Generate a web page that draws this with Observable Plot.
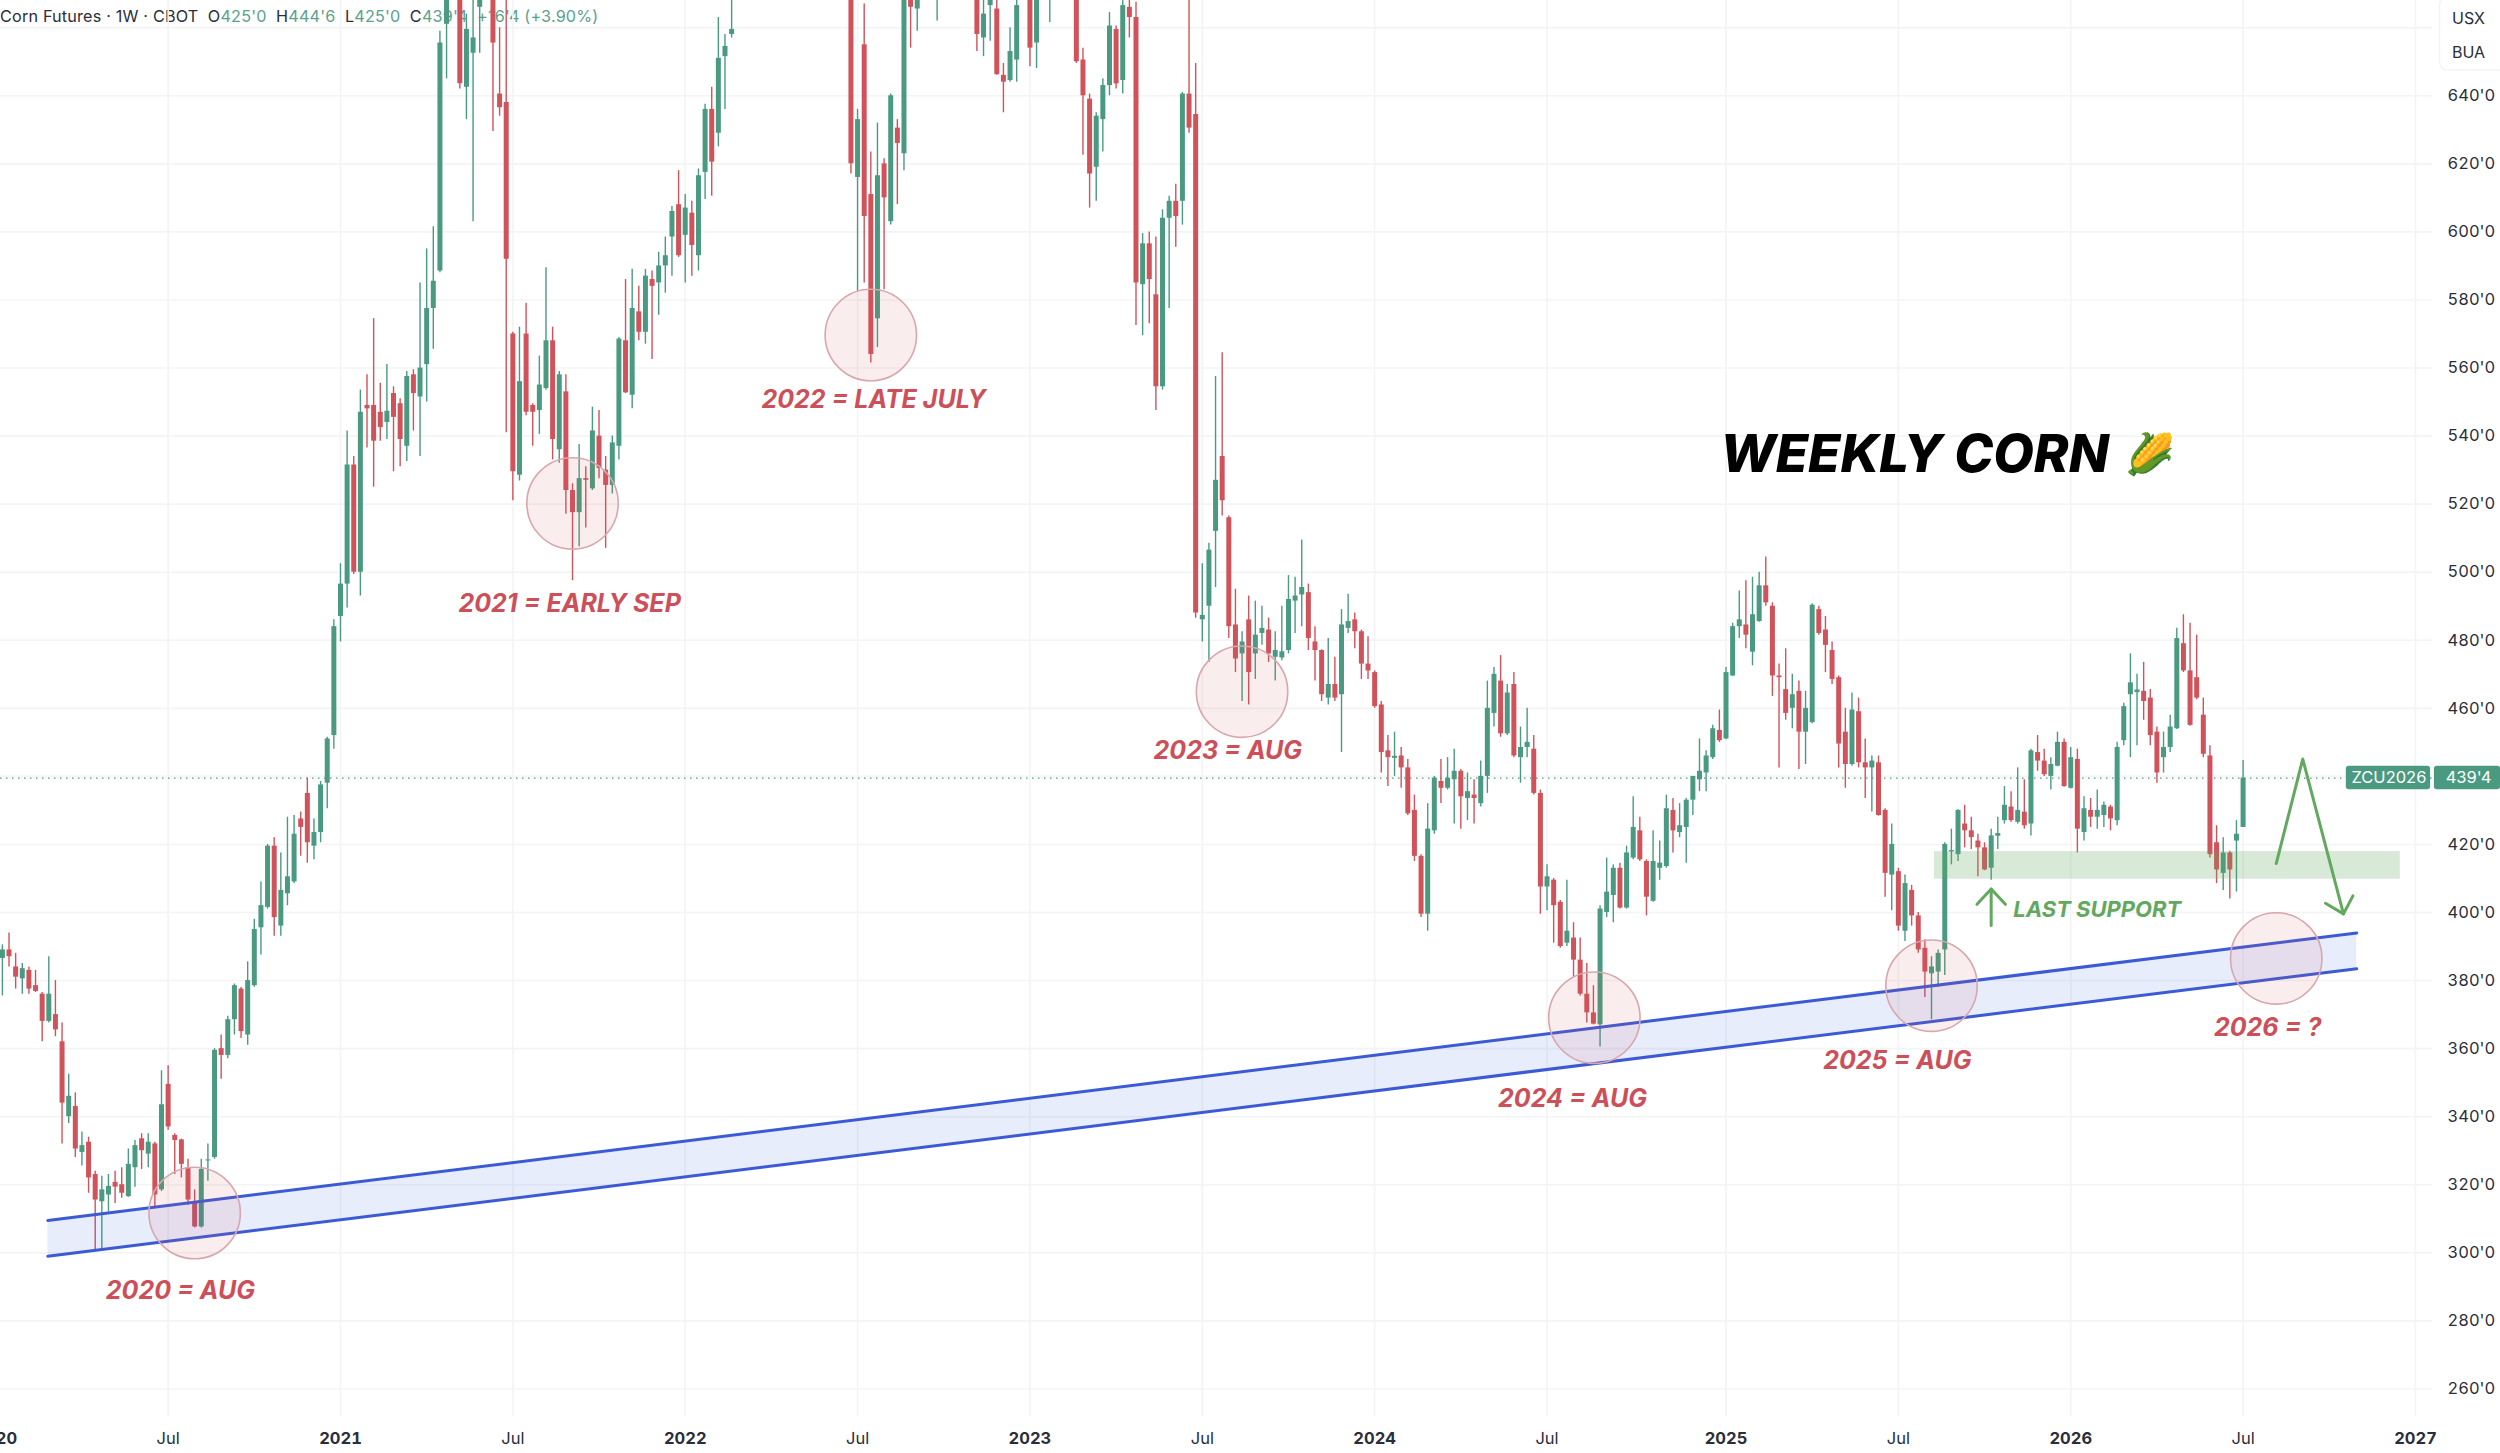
<!DOCTYPE html>
<html><head><meta charset="utf-8">
<script src="https://cdn.jsdelivr.net/npm/d3@7"></script>
<script src="https://cdn.jsdelivr.net/npm/@observablehq/plot@0.6"></script>
<style>
html,body{margin:0;padding:0;background:#fff;overflow:hidden}
#wrap{position:relative;width:2500px;height:1453px}
#head{position:absolute;left:0;top:6px;font:16.2px Inter,sans-serif;color:#2a2e39;white-space:pre;letter-spacing:.18px}
#head span{color:#5aa28e}
#chart{position:absolute;left:0;top:0}
</style></head>
<body><div id="wrap">
<div id="head">Corn Futures · 1W · CBOT  O<span>425'0</span>  H<span>444'6</span>  L<span>425'0</span>  C<span>439'4</span>  <span>+16'4 (+3.90%)</span></div>
<div id="chart"></div></div>
<script>
// Weekly bars as [open, high, low, close], first bar of each year listed in order
const firstBar = "2020-01-13";
const weeks2020 = [[386.5,390.5,375.5,389],[389,394,384,387],[384,388,377.5,381],[380.5,385,376,383.5],[383,384,376,377.5],[378.5,383,376.5,376.8],[376,376.5,362,368],[368,387,367.5,376],[370,380,363.5,365.5],[362,367.5,332,344],[340,352.5,338,346],[343,347,328,330.5],[329.5,335.5,325.5,331.5],[332.5,334,317.5,322],[323,324,301,315.5],[315,322.5,300.5,318.5],[317,323,312,319.5],[320.7,324,314.5,319.3],[320,325,316,317.5],[316.5,330.5,316.3,326],[325,333,319.3,331.5],[333.5,335,324.5,330],[329,335,325,332.5],[332,332.5,313.5,317],[318.5,353.5,318,343.5],[349.5,355,336,337],[334.5,335,323,333],[333.2,333.4,322,326],[325,327.5,314,315.5],[314.5,318.5,307.3,307.6],[307.6,327.5,307.3,324.5],[327,332,321,327.3],[328,360,327.5,359.5],[360,364,351,358],[358,369.5,357,368.5],[368.5,379,364,378.5],[377.5,378,363,365],[364,385.5,361,380],[378.5,398,378,395],[395.5,409,387.5,402],[401.5,420,401,419.5],[419.5,422,393,398.5],[396,417.5,393,406.5],[405.5,428,402,410.5],[409,428.5,408.5,423],[427.5,429.5,416.5,425],[435,439.5,414.5,420.5],[419.5,427.5,415.5,423.5],[423.5,438.5,420.5,437.5],[438,451.5,430.5,451],[452,486,448,484]];
const weeks2021 = [[487,502.5,479.5,496.5],[496.5,541.5,489.5,531.5],[531.5,534,499.3,500],[500,553.5,493,547],[549,558,536.5,548],[549,574.5,525,538.5],[547,555.5,538.5,542.5],[544,561,539,547.3],[552.5,554.5,529.5,545.5],[549.5,551,531,539],[537,559,532.5,557.5],[558,559.5,541.5,552.5],[551.5,585,534,560],[561,595,550,577.5],[577.5,601.5,565.5,585.5],[588.5,659,588,655.5],[661,690,645,680],[680,700,672,695],[690,700,642,643.5],[642.5,664,633,659.5],[652.5,670,603,657],[666,680,652.5,675],[685,705,672,700],[680,690,629.5,655.5],[640.5,660,634,636.5],[638,672,541,592],[570,570.5,521,529.5],[528.5,572,526.8,556],[570,579,546,547],[549,549.5,537,547],[547.5,563.5,540.5,555],[554,589.5,553.5,568],[568,572,533,539],[536,559,532,558],[553,558,517,524],[524,526,497.5,517.5],[517.5,537.5,507.5,527.5],[527.5,531,513,527],[524.5,548.5,524,541.5],[540,547.5,527.5,530.5],[530,534,507,525.5],[525.5,540,523,538],[537,569,533,568.5],[568,586,552.5,552.7],[552,589,548,577.5],[576.5,584,568,570.5],[570.5,589,567,587],[586,588.5,562.5,584],[585,594,575.5,590],[590,598.5,582,593],[598.5,607.5,587,606],[608,618,592.5,593]];
const weeks2022 = [[599,611,585,607],[605.5,609,587,596],[593,618.5,588.5,616.5],[617.5,637.5,609.5,636],[636,642.5,610.5,620.5],[629,663,625,651],[651.5,658,636,654.5],[658,670,657,659.5],[672,690,670,688],[688,705,682,700],[700,712,692,695],[695,722,690,718],[718,740,712,735],[735,748,720,728],[728,755,725,750],[750,772,742,765],[765,778,735,745],[745,760,725,755],[755,785,750,780],[780,795,755,762],[762,785,758,775],[775,790,745,750],[750,770,712,722],[722,740,690,698],[698,712,672,680],[680,690,617,620],[616,636,582.5,633],[655,667,585,604.5],[611,623.5,561.5,564],[574.5,632,566,616.5],[620,621.5,583,610],[603,640.5,602,640],[630.5,633,608,626],[623,690,618,680],[672,680,654,666],[665.5,680,659,672],[680,690,672,685],[685,700,678,695],[680,695,662,690],[690,708,680,700],[700,712,688,695],[695,705,680,686],[686,698,675,680],[680,690,672,675],[672,685,653,658],[657,668,651.5,664],[666.5,672,656,668],[665.5,672,646,646.2],[646,649.5,635,644],[644.5,660,644,653],[650.5,668,644,666.5],[672,685,670,680]];
const weeks2023 = [[672,680,648.5,654],[655.5,680,648,672],[672,690,670,685],[668,680,661.5,675],[675,690,670,685],[685,695,672,680],[680,690,672,675],[672,680,649.5,650],[650.5,654,622.5,640],[639,640.5,607,617],[619,635,609,634],[633,645,623.5,643],[643,664.5,640,660.5],[659.5,660.5,642,643.5],[644.5,670,640.5,666.5],[666,670,657,663],[663,667.5,572.5,585],[584.5,599.5,569.5,596.5],[596.5,600,573,586],[581.5,598.5,547.5,554.5],[554.5,606.5,553.5,604],[604,610.5,577.5,609],[609,614,595.5,604.5],[609,641,602,640.5],[640.5,672,629,630.5],[634.5,649.5,486.5,488],[486,502.5,479.5,487.3],[490,508.5,473.5,506.5],[512,557.5,495.5,527],[534,564.5,516.5,521],[516,516.5,480.5,484],[484.5,495,470.5,474.5],[476,482.5,462,479.5],[486,493,461,470.5],[476,491.5,468.5,481.5],[482,490,478.5,483.5],[483,486.5,473.5,476],[475,482.5,468,477],[474.8,490,474,476.6],[477,499,476,492],[491.5,498.5,482,493],[493.3,509.5,484,495.5],[494,496.5,477,480.5],[479.5,484,468,477],[477,477.2,462,464],[463,480.5,461,467],[467,475,462,463],[464,489,447,484.5],[483.5,493.5,482,485.5],[486,488,477.5,482.5],[482.5,483,468.5,473],[473,481,468.5,471]];
const weeks2024 = [[470.5,471,460,460.5],[461,462,441,447],[447.5,452,437,445.5],[445.3,453,440,445.9],[446,448.5,436.5,442.5],[442.5,445,428.5,429],[430,434.5,415,416.5],[416.5,417,398.5,399.5],[399.5,432,394.5,424.5],[424,440,423,439.5],[438.5,445,432,436.5],[436.5,445.5,436,439.5],[439,448,426,441.5],[441.5,442,424.5,434],[433.5,441,427,435.5],[434.5,439,426,433.5],[432,444.5,431,440],[440,468,435,460],[458.5,472,454.5,470],[468,475.5,451.5,452.5],[452.5,467,452,464.5],[467,470.5,445.5,446],[445.5,454.5,438,448.5],[448.5,460,445.5,450],[448,452,434.5,435],[435,436,399.5,407.5],[407.5,414,400.5,410.5],[409.5,410,391,402],[403,403.5,389.5,390],[391,409.5,390,394.5],[392.5,397,381,386],[386,392.5,375.5,376],[376,385,367.5,370.5],[370.5,378.5,367,367.2],[367,402,360.5,401],[400,416,398.5,406],[405,414,397,413],[413,414.5,401,401.3],[401.3,419.5,401,417.5],[416,434,415.5,425],[424,428,415,415.5],[415,415.5,399,404.5],[403.3,424,403,415],[413,421,409.5,414.5],[413.5,434.5,413,430.5],[430,433.5,417.5,424],[423.5,432,422,425.5],[425,433.5,414.5,433],[433,440,428.5,440],[439,451,435.5,441.5],[441,447.5,435.5,446],[445.5,455,445,454],[453.5,459.5,450,450.5]];
const weeks2025 = [[451,472,450.8,470.5],[469.5,485,469.3,484],[484,494.5,480.5,486],[484.5,497.5,477.5,481.5],[476.5,498.5,472.5,487.5],[485.5,500,485.3,496],[496,504.5,490,491],[490,491,463.5,469.5],[469.5,473,442.5,469],[465.5,477.5,456.5,458.5],[460,470,454,464],[465,468,442,453],[453,465,443.5,460],[455.8,490.7,455.5,490.3],[489,490,481.5,482],[483,487,470.5,478.5],[477,479.5,467,468.5],[469,469.5,442.5,449.5],[453,460,436.5,443.5],[443.5,464.5,443,459.5],[459,463,442.5,444],[444,451,433.5,442.5],[442.5,446,429.5,444.5],[444,446,428.3,428.5],[430,430.5,404.5,411.5],[411,426,400.5,420],[412,413,394.5,396],[394.5,411,391.5,408.5],[406.5,408,396,399],[399,400,388,389],[389.5,392,375,382.5],[382,387,368.5,384],[382.5,389,378,388],[389,420.5,381.5,420],[417.8,424.5,414,418.2],[417,430.2,415,430],[426,431.5,419,424],[424,428,418.5,422],[421,423,410.5,419],[419,420.5,412.3,412.5],[413,424.5,409.5,422.5],[422.4,428,418.5,423.2],[427,437,426,431.5],[431,435.5,426.5,427],[426.5,442.5,426,430],[429.5,439,424.5,425.5],[426,448,422.5,447.5],[447,452,441.5,444.5],[444.5,448,440,440.5],[440,445.5,436,443.5],[443,453,442.8,450],[450,451,436.8,437]];
const weeks2026 = [[436.5,448.5,436.3,445.5],[445,448,417.5,424.5],[423.5,434,421,430.5],[430,433.5,425,428],[428,436,424.5,430],[428.5,432.5,425,431.5],[431,431.5,424,427.5],[427,450,425.5,448.5],[450.5,461.5,449,460.5],[464,476,445.5,467.5],[464.6,470,449,465.4],[465,473.5,456.5,462],[463,465.5,449,452],[453,454.5,438,441],[445.5,453,441,448.5],[448.5,458,447,454.5],[454,483.5,453.8,480.5],[479,487.5,470.5,471],[471,485,454.7,455],[469,481.5,462.5,463],[458,463,445.5,446.5],[446,449,416,417],[420.5,425.5,408.5,412.5],[411.5,422,406.5,417.5],[417.5,418,404,412.5],[421,427,406,423],[425,444.7,425,439.5]];

// Axis ticks
const priceTicks = [260,280,300,320,340,360,380,400,420,440,460,480,500,520,540,560,580,600,620,640];
const priceGrid = [...priceTicks, 660];
const yearTicks = ["2020-01-06","2021-01-04","2022-01-03","2023-01-02","2024-01-01","2025-01-06","2026-01-05","2027-01-04"].map(d=>new Date(d));
const julyTicks = ["2020-07-06","2021-07-05","2022-07-04","2023-07-03","2024-07-01","2025-07-07","2026-07-06"].map(d=>new Date(d));

// Annotations
const channelDates = ["2020-03-01","2026-11-03"].map(d=>new Date(d));
const channelUpper = [309.5,394];
const channelLower = [299,383.5];
const circleDates = ["2020-08-03","2021-09-06","2022-07-18","2023-08-14","2024-08-20","2025-08-11","2026-08-10"].map(d=>new Date(d));
const circlePrices = [311.7,520.2,569.7,464.9,369.1,378.5,386.5];
const noteTexts = ["2020 = AUG","2021 = EARLY SEP","2022 = LATE JULY","2023 = AUG","2024 = AUG","2025 = AUG","2026 = ?"];
const noteDates = ["2020-07-19","2021-09-03","2022-07-21","2023-07-30","2024-07-28","2025-07-06","2026-08-01"].map(d=>new Date(d));
const notePrices = [288.9,490.8,550.5,447.5,345.1,356.5,366];
const supportBand = {x1:new Date("2025-08-14"),x2:new Date("2026-12-19"),y1:409.8,y2:417.9};
const arrowShaft = [["2025-10-13",396.2],["2025-10-13",406.9]];
const arrowHead = [["2025-09-28",402.4],["2025-10-13",406.9],["2025-10-28",402.4]];
const zigzag = [["2026-08-10",414.4],["2026-09-07",445.1],["2026-10-20",399.6]];
const zigzagHead = [["2026-10-01",402.7],["2026-10-20",399.6],["2026-10-30",404.9]];
const lastPrice = 439.5;

const green="#4a9a82", red="#d0535b", gridC="#f3f4f5", ink="#2a2e39", noteRed="#cc4f59", noteGreen="#62a85f", blue="#3c5ad4";
const all=[...weeks2020,...weeks2021,...weeks2022,...weeks2023,...weeks2024,...weeks2025,...weeks2026];
const t0=new Date(firstBar).getTime();
const bars=all.map(([open,high,low,close],i)=>({date:new Date(t0+i*6048e5),open,high,low,close}));
const tone=d=>d.close>=d.open?green:red;
const pts=a=>a.map(([d,p])=>({d:new Date(d),p}));
const channel=channelDates.map((d,i)=>({d,u:channelUpper[i],l:channelLower[i]}));
const circles=circleDates.map((d,i)=>({d,p:circlePrices[i]}));
const notes=noteTexts.map((t,i)=>({t,d:noteDates[i],p:notePrices[i]}));

const chart=Plot.plot({
  width:2500,height:1453,marginLeft:0,marginRight:68,marginTop:0,marginBottom:37,
  style:{background:"transparent",fontFamily:"Inter, sans-serif",color:ink},
  x:{type:"utc",domain:[new Date("2020-01-11"),new Date("2027-01-22")],axis:null},
  y:{domain:[251.9,668],axis:null},
  color:{type:"identity"},
  marks:[
    Plot.ruleY(priceGrid,{stroke:gridC,strokeWidth:1.6}),
    Plot.ruleX([...yearTicks,...julyTicks],{stroke:gridC,strokeWidth:1.6}),
    Plot.axisY(priceTicks,{anchor:"right",tickSize:0,tickPadding:15,tickFormat:d=>`${d}'0`,fontSize:16.5,label:null,fill:ink}),
    Plot.axisX(yearTicks,{anchor:"bottom",tickSize:0,tickPadding:16,tickFormat:d=>String(d.getUTCFullYear()),fontSize:16.5,fontWeight:700,label:null,fill:ink}),
    Plot.axisX(julyTicks,{anchor:"bottom",tickSize:0,tickPadding:16,tickFormat:()=>"Jul",fontSize:16.5,label:null,fill:ink}),
    Plot.ruleY([lastPrice],{stroke:green,strokeDasharray:"1.5 4.5",strokeWidth:1.3}),
    Plot.ruleX(bars,{x:"date",y1:"low",y2:"high",stroke:tone,strokeWidth:1.4}),
    Plot.ruleX(bars,{x:"date",y1:"open",y2:"close",stroke:tone,strokeWidth:5}),
    Plot.rect([supportBand],{x1:"x1",x2:"x2",y1:"y1",y2:"y2",fill:"#62a85f",fillOpacity:.25}),
    Plot.areaY(channel,{x:"d",y1:"l",y2:"u",fill:"#3158e0",fillOpacity:.11}),
    Plot.line(channel,{x:"d",y:"u",stroke:blue,strokeWidth:3}),
    Plot.line(channel,{x:"d",y:"l",stroke:blue,strokeWidth:3}),
    Plot.dot(circles,{x:"d",y:"p",r:45.7,fill:"#cf5a64",fillOpacity:.11,stroke:"#d7a7ad",strokeWidth:1.6}),
    Plot.text(notes,{x:"d",y:"p",text:"t",fill:noteRed,fontSize:25,fontWeight:700,fontStyle:"italic"}),
    Plot.text(["LAST SUPPORT"],{x:new Date("2026-02-02"),y:400.7,fill:noteGreen,fontSize:22,fontWeight:700,fontStyle:"italic"}),
    Plot.text(["WEEKLY CORN"],{x:new Date("2025-07-24"),y:534.5,fill:"#000",fontSize:52.5,fontWeight:800,fontStyle:"italic"}),
    Plot.text(["🌽"],{x:new Date("2026-03-30"),y:534.5,fontSize:40}),
    Plot.line(pts(arrowShaft),{x:"d",y:"p",stroke:noteGreen,strokeWidth:3}),
    Plot.line(pts(arrowHead),{x:"d",y:"p",stroke:noteGreen,strokeWidth:3}),
    Plot.line(pts(zigzag),{x:"d",y:"p",stroke:noteGreen,strokeWidth:3}),
    Plot.line(pts(zigzagHead),{x:"d",y:"p",stroke:noteGreen,strokeWidth:3}),
    Plot.rect([{x1:new Date("2026-10-23"),x2:new Date("2027-01-20")}],{x1:"x1",x2:"x2",y1:436.1,y2:443.0,fill:green,rx:3}),
    Plot.rect([{x1:new Date("2027-01-24"),x2:new Date("2027-04-04")}],{x1:"x1",x2:"x2",y1:436.1,y2:443.0,fill:green,rx:3}),
    Plot.text(["ZCU2026"],{x:new Date("2026-12-07"),y:439.5,fill:"#fff",fontSize:16.5}),
    Plot.text(["439'4"],{x:new Date("2027-03-01"),y:439.5,fill:"#fff",fontSize:16.5}),
    Plot.rect([{x1:new Date("2027-01-30"),x2:new Date("2027-04-10")}],{x1:"x1",x2:"x2",y1:647.4,y2:669,fill:"#fff",stroke:"#f3f4f5",strokeWidth:1.5,rx:8}),
    Plot.text(["USX"],{x:new Date("2027-03-01"),y:662.7,fill:ink,fontSize:16}),
    Plot.text(["BUA"],{x:new Date("2027-03-01"),y:652.7,fill:ink,fontSize:16})
  ]
});
document.getElementById("chart").appendChild(chart);
</script>
</body></html>
